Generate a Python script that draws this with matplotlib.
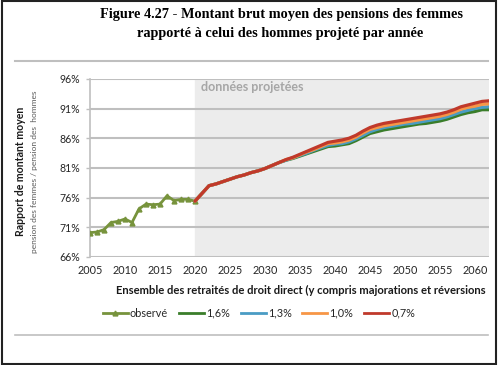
import matplotlib
matplotlib.use('Agg')
import matplotlib.pyplot as plt
from matplotlib.patches import Rectangle
from matplotlib.lines import Line2D

# observed ratio (%)
obs_years = list(range(2005, 2021))
obs_vals = [70.1, 70.2, 70.6, 71.8, 72.0, 72.4, 71.8, 74.1, 74.9, 74.8, 74.9, 76.3, 75.5, 75.7, 75.7, 75.4]

# projections by productivity hypothesis
proj_years = list(range(2020, 2063))
common = [75.4, 76.7, 78.0, 78.3, 78.7, 79.1, 79.5, 79.8, 80.2, 80.5, 80.9, 81.4, 81.9]
p07 = common + [82.4, 82.8, 83.3, 83.8, 84.3, 84.8, 85.3, 85.5, 85.7, 86.0, 86.5, 87.2, 87.8, 88.2, 88.5,
                88.7, 88.9, 89.1, 89.3, 89.5, 89.7, 89.9, 90.1, 90.4, 90.8, 91.3, 91.6, 91.9, 92.2, 92.3]
p10 = common + [82.4, 82.7, 83.2, 83.7, 84.1, 84.6, 85.1, 85.2, 85.4, 85.7, 86.2, 86.9, 87.5, 87.8, 88.1,
                88.3, 88.5, 88.7, 88.9, 89.1, 89.3, 89.5, 89.7, 90.0, 90.4, 90.9, 91.2, 91.4, 91.7, 91.8]
p13 = common + [82.3, 82.7, 83.1, 83.5, 84.0, 84.4, 84.8, 85.0, 85.1, 85.4, 85.9, 86.5, 87.1, 87.5, 87.8,
                88.0, 88.2, 88.4, 88.5, 88.7, 88.9, 89.1, 89.3, 89.6, 90.0, 90.4, 90.7, 91.0, 91.2, 91.3]
p16 = common + [82.3, 82.6, 83.0, 83.4, 83.8, 84.2, 84.6, 84.7, 84.9, 85.1, 85.6, 86.2, 86.8, 87.1, 87.4,
                87.6, 87.8, 88.0, 88.2, 88.4, 88.5, 88.7, 88.9, 89.2, 89.6, 90.0, 90.3, 90.5, 90.8, 90.8]

labels = ['observé', '1,6%', '1,3%', '1,0%', '0,7%']
colors = ['#77933C', '#3A7D2A', '#4A9CC4', '#F79646', '#C0392B']
yticks = [66, 71, 76, 81, 86, 91, 96]
xticks = list(range(2005, 2061, 5))

plt.rcParams['font.family'] = ['Lato', 'DejaVu Sans']

fig = plt.figure(figsize=(5, 3.65), dpi=100)
ax = fig.add_axes([0.180, 0.296, 0.798, 0.488])

ax.axvspan(2020, 2062, color='#ECECEC', zorder=0)
for t in yticks:
    ax.axhline(t, color='#BFBFBF', lw=1.5, zorder=1)

ax.plot(obs_years, obs_vals, color=colors[0], lw=2, marker='^', ms=3.5, zorder=3)
for vals, c in zip([p16, p13, p10, p07], colors[1:]):
    ax.plot(proj_years, vals, color=c, lw=2.3, zorder=3, solid_capstyle='round')

ax.set_xlim(2005, 2062)
ax.set_ylim(66, 96)
ax.set_xticks(xticks)
ax.set_yticks(yticks)
ax.set_yticklabels([str(t) + '%' for t in yticks])
ax.tick_params(axis='x', length=0, labelsize=7.8, colors='#262626', pad=6)
ax.tick_params(axis='y', length=3, width=1, color='#BFBFBF', labelsize=7.6, labelcolor='#262626', pad=4)
for s in ['top', 'right', 'bottom']:
    ax.spines[s].set_visible(False)
ax.spines['left'].set_color('#BFBFBF')
ax.spines['left'].set_linewidth(1.2)

ax.text(2020.9, 94.6, 'données projetées', color='#A6A6A6', fontsize=9, fontweight='bold', va='center')

fig.text(0.232, 0.205, 'Ensemble des retraités de droit direct (y compris majorations et réversions',
         fontsize=8.1, fontweight='bold', color='#1A1A1A', va='center')
fig.text(0.042, 0.53, 'Rapport de montant moyen', rotation=90, fontsize=7.6, fontweight='bold',
         color='#1A1A1A', ha='center', va='center')
fig.text(0.07, 0.53, 'pension des femmes / pension des  hommes', rotation=90, fontsize=6,
         color='#595959', ha='center', va='center')

fig.text(0.564, 0.959, 'Figure 4.27 - Montant brut moyen des pensions des femmes',
         family='Liberation Serif', fontweight='bold', fontsize=10.3, ha='center', va='center')
fig.text(0.561, 0.908, 'rapporté à celui des hommes projeté par année',
         family='Liberation Serif', fontweight='bold', fontsize=10.3, ha='center', va='center')

fig.add_artist(Line2D([0.03, 0.976], [0.833, 0.833], color='#BFBFBF', lw=1.5))
fig.add_artist(Line2D([0.03, 0.976], [0.082, 0.082], color='#BFBFBF', lw=1.2))
fig.add_artist(Rectangle((0.004, 0.004), 0.988, 0.993, fill=False, ec='#222222', lw=1.5))

handles = [Line2D([], [], color=colors[0], lw=2, marker='^', ms=3.5)]
handles += [Line2D([], [], color=c, lw=2) for c in colors[1:]]
fig.legend(handles, labels, loc='center', bbox_to_anchor=(0.518, 0.142), ncol=5, frameon=False,
           fontsize=7.8, handlelength=2.3, handletextpad=0.2, columnspacing=1.0, labelcolor='#262626')

fig.savefig('out.png', dpi=100)
